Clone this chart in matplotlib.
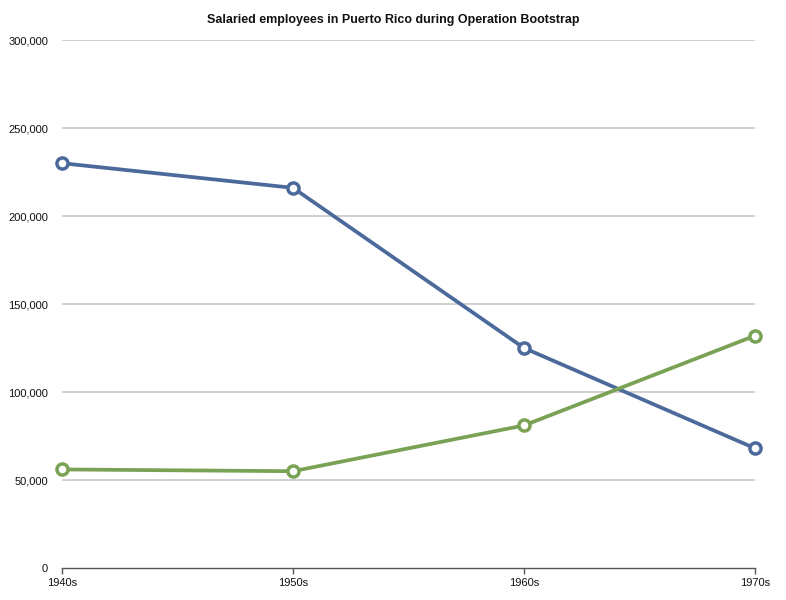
import matplotlib
matplotlib.use("Agg")
import matplotlib.pyplot as plt

categories = ["1940s", "1950s", "1960s", "1970s"]
series_a = [230000, 216000, 125000, 68000]
series_b = [56000, 55000, 81000, 132000]
yticks = [0, 50000, 100000, 150000, 200000, 250000, 300000]

plt.rcParams['font.family'] = ['Liberation Sans', 'DejaVu Sans']

fig = plt.figure(figsize=(7.86, 6.0), dpi=100)
ax = fig.add_axes([62/786, 1-568/600, (755-62)/786, (568-40)/600])

x = list(range(len(categories)))
ax.plot(x, series_a, color="#4b6a9b", lw=2.7, marker="o", ms=8, mfc="white",
        mec="#4b6a9b", mew=2.5, zorder=3, clip_on=False, solid_joinstyle="round")
ax.plot(x, series_b, color="#7aa255", lw=2.7, marker="o", ms=8, mfc="white",
        mec="#7aa255", mew=2.5, zorder=3, clip_on=False, solid_joinstyle="round")

ax.set_xlim(0, len(categories)-1)
ax.set_ylim(0, 300000)
ax.set_yticks(yticks)
ax.set_yticklabels([f"{v:,}" for v in yticks])
ax.set_xticks(x)
ax.set_xticklabels(categories)

for v in yticks[1:]:
    ax.axhline(v, color="#c8c8c8", lw=1.2, zorder=1)

for s in ["top", "right", "left"]:
    ax.spines[s].set_visible(False)
ax.spines["bottom"].set_color("#555555")
ax.spines["bottom"].set_linewidth(1.0)
ax.tick_params(axis="y", length=0, pad=10, labelsize=8, labelcolor="#111111")
ax.tick_params(axis="x", length=4, width=1, color="#555555", direction="out",
               pad=3, labelsize=8, labelcolor="#111111")

fig.text(0.5, 1-20/600, "Salaried employees in Puerto Rico during Operation Bootstrap",
         ha="center", va="center", fontsize=9, fontweight="bold", color="#111111")

fig.savefig("out.png", dpi=100)
